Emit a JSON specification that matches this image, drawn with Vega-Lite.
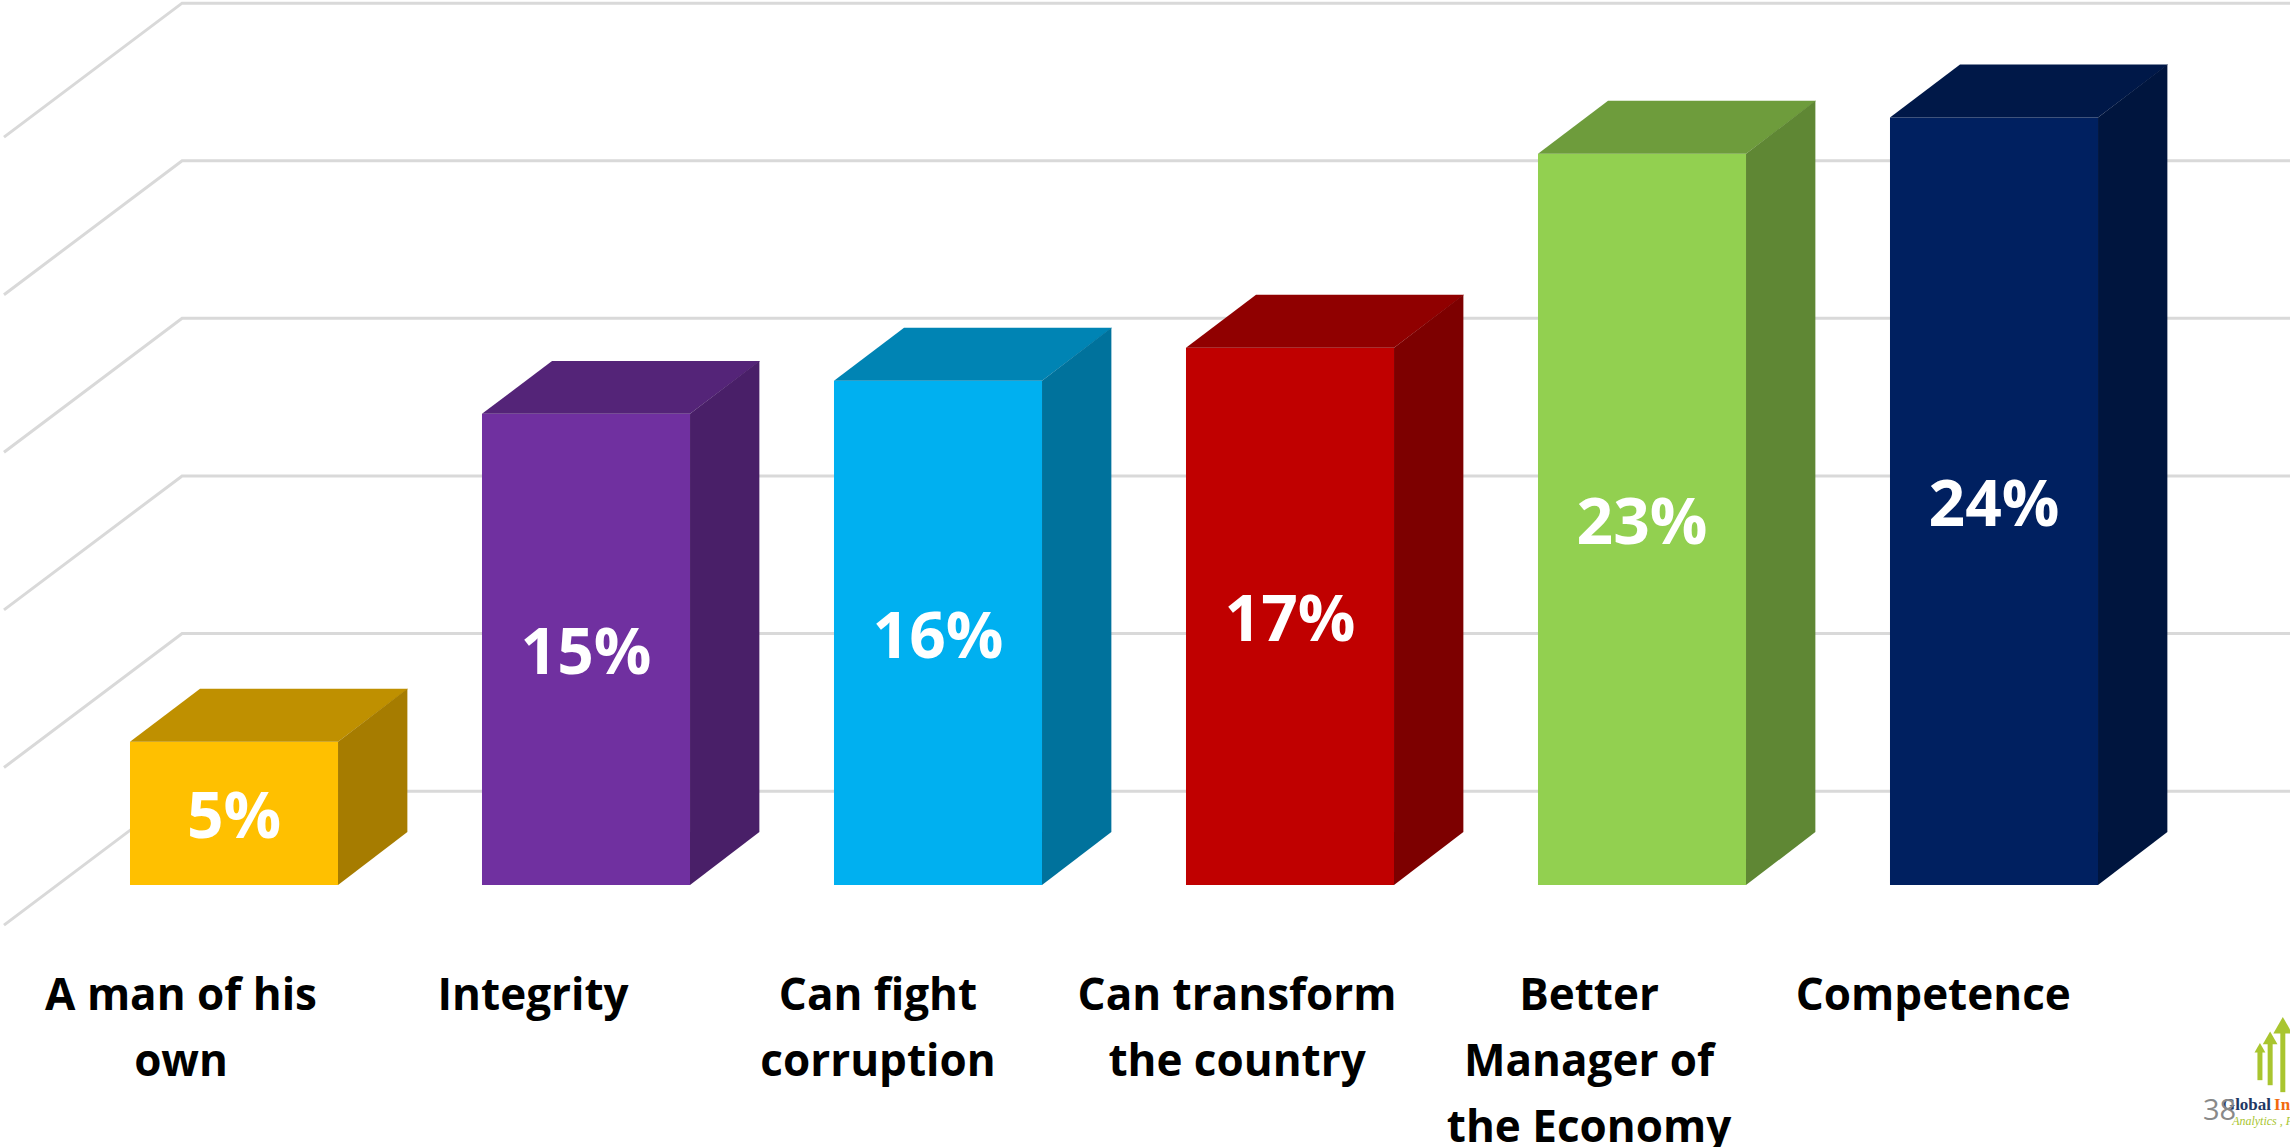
{
"$schema":"https://vega.github.io/schema/vega-lite/v6.json",
"autosize":"none",
"width":2290,"height":1147,"padding":0,"background":"#ffffff",
"config":{"view":{"stroke":null}},
"datasets":{"bars":[
{"category":"A man of his own","wrapped":"A man of his\nown","value":4.55,"label":"5%"},
{"category":"Integrity","wrapped":"Integrity","value":14.95,"label":"15%"},
{"category":"Can fight corruption","wrapped":"Can fight\ncorruption","value":16.0,"label":"16%"},
{"category":"Can transform the country","wrapped":"Can transform\nthe country","value":17.05,"label":"17%"},
{"category":"Better Manager of the Economy","wrapped":"Better\nManager of\nthe Economy","value":23.2,"label":"23%"},
{"category":"Competence","wrapped":"Competence","value":24.35,"label":"24%"}
]},
"data":{"name":"bars"},
"encoding":{
"x":{"field":"x","type":"quantitative","axis":null,"scale":{"domain":[-0.3693,6.1364],"nice":false,"zero":false}},
"y":{"field":"y","type":"quantitative","axis":null,"stack":null,"scale":{"domain":[-8.31,28.08],"nice":false,"zero":false}}
},
"layer":[
{"data":{"values":[{"level":0},{"level":5},{"level":10},{"level":15},{"level":20},{"level":25}]},
 "transform":[{"calculate":"[0,1,2]","as":"t"},{"flatten":["t"]},
  {"calculate":"[-0.358,0.148,6.1364][datum.t]","as":"x"},
  {"calculate":"datum.level+[-1.27,2.98,2.98][datum.t]","as":"y"}],
 "mark":{"type":"line","color":"#D9D9D9","strokeWidth":3},
 "encoding":{"detail":{"field":"level","type":"nominal"},"order":{"field":"t","type":"quantitative"}}},
{"transform":[{"window":[{"op":"row_number","as":"n"}],"sort":[{"field":"value","order":"ascending"}]},{"calculate":"datum.n-1","as":"x"},{"calculate":"datum.n-1+0.591","as":"x2"},{"calculate":"datum.value","as":"y"},{"calculate":"0","as":"y2"}],
 "mark":{"type":"rect"},
 "encoding":{"x2":{"field":"x2"},"y2":{"field":"y2"},
  "color":{"field":"category","type":"nominal","legend":null,
   "scale":{"domain":["A man of his own","Integrity","Can fight corruption","Can transform the country","Better Manager of the Economy","Competence"],"range":["#FFC000","#7030A0","#00B0F0","#C00000","#92D050","#002060"]}}}},
{"transform":[{"window":[{"op":"row_number","as":"n"}],"sort":[{"field":"value","order":"ascending"}]},{"calculate":"[0,1,2,3]","as":"t"},{"flatten":["t"]},
  {"calculate":"datum.n-1+[0,0.199,0.591,0.79][datum.t]","as":"x"},
  {"calculate":"datum.value+[0,1.68,1.68,1.68][datum.t]","as":"y"},
  {"calculate":"datum.value+[0,0,0,1.68][datum.t]","as":"y2"}],
 "mark":{"type":"area","orient":"vertical"},
 "encoding":{"y2":{"field":"y2"},
  "color":{"field":"category","type":"nominal","legend":null,
   "scale":{"domain":["A man of his own","Integrity","Can fight corruption","Can transform the country","Better Manager of the Economy","Competence"],"range":["#BF9000","#542478","#0084B4","#900000","#6E9C3C","#001848"]}}}},
{"transform":[{"window":[{"op":"row_number","as":"n"}],"sort":[{"field":"value","order":"ascending"}]},{"calculate":"[0,1]","as":"t"},{"flatten":["t"]},
  {"calculate":"datum.n-1+0.591+0.197*datum.t","as":"x"},
  {"calculate":"datum.value+1.68*datum.t","as":"y"},
  {"calculate":"1.68*datum.t","as":"y2"}],
 "mark":{"type":"area","orient":"vertical"},
 "encoding":{"y2":{"field":"y2"},
  "color":{"field":"category","type":"nominal","legend":null,
   "scale":{"domain":["A man of his own","Integrity","Can fight corruption","Can transform the country","Better Manager of the Economy","Competence"],"range":["#A67C00","#491F68","#00729C","#7D0000","#5F8734","#00153E"]}}}},
{"transform":[{"window":[{"op":"row_number","as":"n"}],"sort":[{"field":"value","order":"ascending"}]},{"calculate":"datum.n-1+0.2955","as":"x"},{"calculate":"datum.value/2","as":"y"}],
 "mark":{"type":"text","font":"Open Sans","fontWeight":"bold","fontSize":64,"color":"#ffffff","align":"center","baseline":"middle","dy":6},
 "encoding":{"text":{"field":"label"}}},
{"transform":[{"window":[{"op":"row_number","as":"n"}],"sort":[{"field":"value","order":"ascending"}]},{"calculate":"datum.n-1+0.145+[0,0,-0.02,0,0,-0.022][datum.n-1]","as":"x"},{"calculate":"-2.86","as":"y"}],
 "mark":{"type":"text","font":"Open Sans","fontWeight":"bold","fontSize":44,"color":"#000000","align":"center","baseline":"top","lineBreak":"\n","lineHeight":66},
 "encoding":{"text":{"field":"wrapped"}}},
{"data":{"values":[{"x":6.051,"y":-6.19,"y2":-5.2},{"x":6.08,"y":-6.35,"y2":-4.9},{"x":6.116,"y":-6.57,"y2":-4.5}]},
 "mark":{"type":"rule","color":"#A9C52F","strokeWidth":5},
 "encoding":{"y2":{"field":"y2"}}},
{"data":{"values":[{"x":6.051,"y":-5.16,"s":70},{"x":6.08,"y":-4.85,"s":130},{"x":6.116,"y":-4.45,"s":220}]},
 "mark":{"type":"point","shape":"triangle-up","filled":true,"color":"#A9C52F","opacity":1},
 "encoding":{"size":{"field":"s","type":"quantitative","legend":null,"scale":{"type":"identity"}}}},
{"data":{"values":[{"x":5.943,"y":-7.14,"t":"Global"}]},
 "mark":{"type":"text","font":"Liberation Serif","fontWeight":"bold","fontSize":17,"color":"#1F3864","align":"left","baseline":"alphabetic"},
 "encoding":{"text":{"field":"t"}}},
{"data":{"values":[{"x":6.091,"y":-7.14,"t":"In"}]},
 "mark":{"type":"text","font":"Liberation Serif","fontWeight":"bold","fontSize":17,"color":"#F26B0E","align":"left","baseline":"alphabetic"},
 "encoding":{"text":{"field":"t"}}},
{"data":{"values":[{"x":5.972,"y":-7.61,"t":"Analytics , Pr"}]},
 "mark":{"type":"text","font":"Liberation Serif","fontStyle":"italic","fontSize":12,"color":"#A9C52F","align":"left","baseline":"alphabetic"},
 "encoding":{"text":{"field":"t"}}},
{"data":{"values":[{"x":5.889,"y":-7.46,"t":"38"}]},
 "mark":{"type":"text","font":"Open Sans","fontSize":29,"color":"#898989","align":"left","baseline":"alphabetic"},
 "encoding":{"text":{"field":"t"}}}
],
"resolve":{"scale":{"color":"independent"}}
}
